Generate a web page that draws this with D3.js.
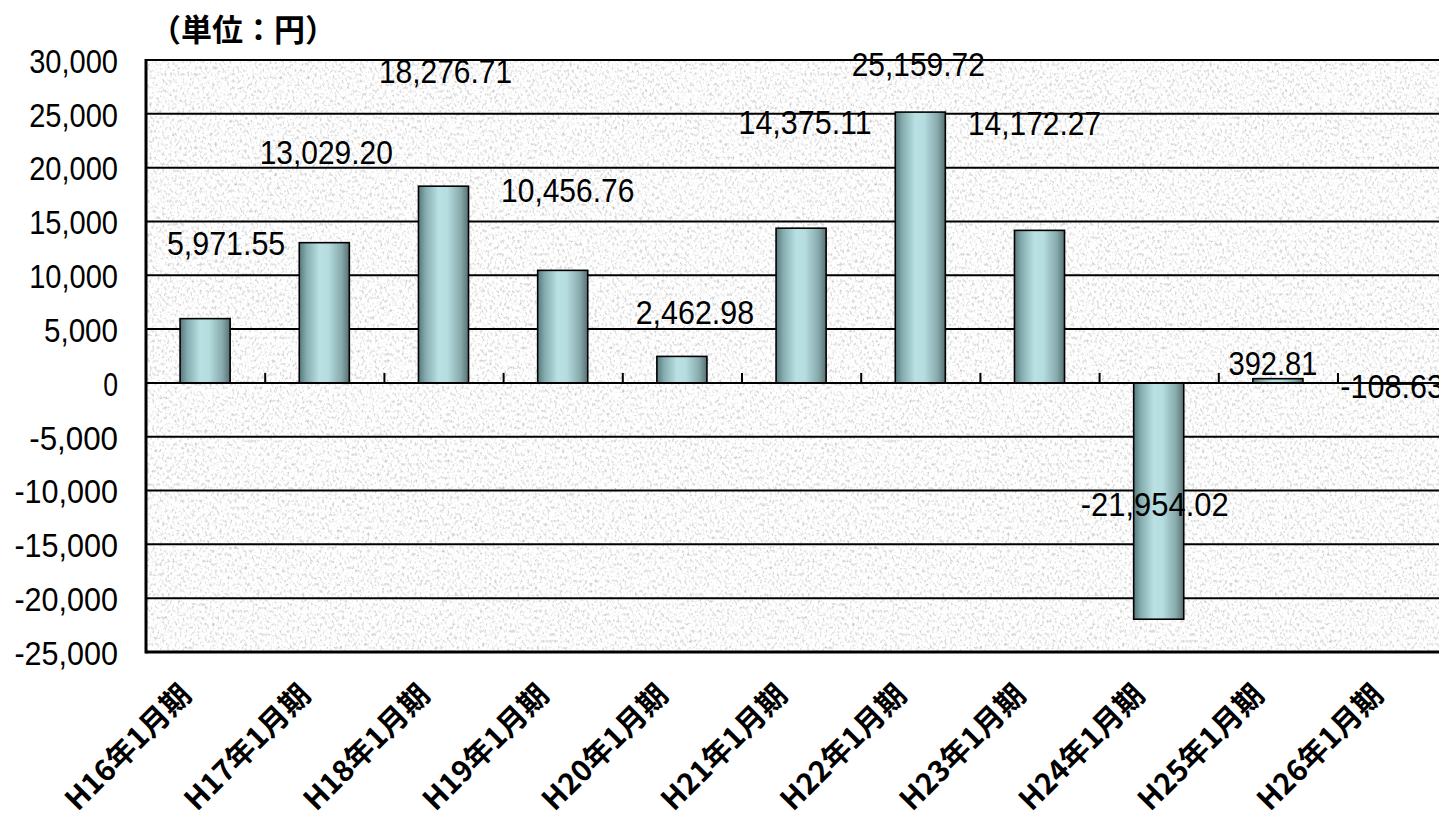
<!DOCTYPE html>
<html>
<head>
<meta charset="utf-8">
<script src="https://cdn.jsdelivr.net/npm/d3@7"></script>
<style>
  html, body { margin: 0; padding: 0; background: #ffffff; overflow: hidden; }
  svg { display: block; }
  .num { font-family: "Liberation Sans", Arial, sans-serif; font-size: 32.5px; fill: #000; }
  .jp { font-family: "Noto Sans CJK JP", sans-serif; font-weight: 700; fill: #000; }
</style>
</head>
<body>
<svg id="chart" width="1439" height="822"></svg>
<script>
// 期別の一株当たり数値（円）
const periods = ["H16年1月期", "H17年1月期", "H18年1月期", "H19年1月期", "H20年1月期",
                 "H21年1月期", "H22年1月期", "H23年1月期", "H24年1月期", "H25年1月期", "H26年1月期"];
const values = [5971.55, 13029.20, 18276.71, 10456.76, 2462.98,
                14375.11, 25159.72, 14172.27, -21954.02, 392.81, -108.63];
const yTicks = [30000, 25000, 20000, 15000, 10000, 5000, 0, -5000, -10000, -15000, -20000, -25000];
const unitLabel = "（単位：円）";

// データラベルの手動配置（バー端からのずれ, px）
const labelNudge = [[21, -76], [2, -91], [2, -116], [5, -81], [13, -45], [4, -107],
                    [-2, -48], [-5, -108], [-4, -116], [-5, -16], [-5, 2]];

// 半角文字1文字分の幅（等幅風に揃える）
const CHAR_W = 14.8;

const svg = d3.select("#chart");
const plot = { left: 146, top: 60, bottom: 652, band: 119.2 };
plot.right = plot.left + plot.band * periods.length;

const x = d3.scaleBand().domain(periods).range([plot.left - 0.5, plot.right - 0.5]).paddingInner(0.58).paddingOuter(0.29);
const y = d3.scaleLinear().domain([-25000, 30000]).range([plot.bottom, plot.top]);

const locale = d3.formatLocale({ decimal: ".", thousands: ",", grouping: [3], currency: ["", ""], minus: "-" });
const fmtTick = locale.format(",");
const fmtLabel = locale.format(",.2f");

const defs = svg.append("defs");

// 紙のような灰色テクスチャ
const paper = defs.append("filter").attr("id", "paper")
  .attr("x", 0).attr("y", 0).attr("width", 1).attr("height", 1)
  .attr("color-interpolation-filters", "sRGB");
paper.append("feTurbulence").attr("type", "fractalNoise")
  .attr("baseFrequency", "0.4 0.3").attr("numOctaves", 4).attr("seed", 7).attr("result", "grain");
paper.append("feColorMatrix").attr("in", "grain").attr("type", "matrix")
  .attr("values", "0.55 0 0 0 0.72  0.55 0 0 0 0.72  0.55 0 0 0 0.72  0 0 0 0 1");

// バーの円柱風グラデーション
const grad = defs.append("linearGradient").attr("id", "barFill").attr("x1", 0).attr("x2", 1).attr("y1", 0).attr("y2", 0);
[["0%", "#56787b"], ["14%", "#84abae"], ["40%", "#b9e0e3"], ["58%", "#b5dcdf"], ["84%", "#88abad"], ["100%", "#587072"]]
  .forEach(([o, c]) => grad.append("stop").attr("offset", o).attr("stop-color", c));

// プロット領域
svg.append("rect")
  .attr("x", plot.left).attr("y", plot.top)
  .attr("width", plot.right - plot.left).attr("height", plot.bottom - plot.top)
  .attr("fill", "#ececec").attr("filter", "url(#paper)");

// 目盛線
svg.append("g").selectAll("line").data(yTicks).join("line")
  .attr("x1", plot.left).attr("x2", plot.right)
  .attr("y1", d => y(d)).attr("y2", d => y(d))
  .attr("stroke", "#000").attr("stroke-width", 2);

// 縦軸ラベル
const yAxis = d3.axisLeft(y).tickValues(yTicks).tickSize(0).tickPadding(0).tickFormat(fmtTick);
const yg = svg.append("g").attr("transform", `translate(118,0)`).call(yAxis);
yg.select(".domain").remove();
yg.selectAll("text")
  .attr("class", "num").attr("font-size", null).attr("font-family", null)
  .attr("dy", "0.38em").attr("x", 0)
  .attr("lengthAdjust", "spacingAndGlyphs")
  .attr("textLength", function () { return this.textContent.length * CHAR_W; });

// バー
svg.append("g").selectAll("rect").data(values).join("rect")
  .attr("x", (d, i) => x(periods[i]))
  .attr("width", x.bandwidth())
  .attr("y", d => y(Math.max(0, d)))
  .attr("height", d => Math.abs(y(d) - y(0)))
  .attr("fill", "url(#barFill)")
  .attr("stroke", "#000").attr("stroke-width", 1.6);

// ゼロ線と区切り目盛
svg.append("line").attr("x1", plot.left).attr("x2", plot.right)
  .attr("y1", y(0)).attr("y2", y(0)).attr("stroke", "#000").attr("stroke-width", 2);
svg.append("g").selectAll("line").data(d3.range(1, periods.length)).join("line")
  .attr("x1", i => plot.left + i * plot.band).attr("x2", i => plot.left + i * plot.band)
  .attr("y1", y(0)).attr("y2", y(0) - 10)
  .attr("stroke", "#000").attr("stroke-width", 2);

// 軸の枠線
svg.append("line").attr("x1", plot.left).attr("x2", plot.left)
  .attr("y1", plot.top - 1).attr("y2", plot.bottom + 1.5).attr("stroke", "#000").attr("stroke-width", 3);
svg.append("line").attr("x1", plot.left).attr("x2", plot.right)
  .attr("y1", plot.bottom).attr("y2", plot.bottom).attr("stroke", "#000").attr("stroke-width", 3);

// データラベル
svg.append("g").selectAll("text").data(values).join("text")
  .attr("class", "num")
  .attr("text-anchor", "middle")
  .attr("x", (d, i) => x(periods[i]) + x.bandwidth() / 2 + labelNudge[i][0])
  .attr("y", (d, i) => y(d) + labelNudge[i][1])
  .attr("dy", "0.38em")
  .text(d => fmtLabel(d))
  .attr("lengthAdjust", "spacingAndGlyphs")
  .attr("textLength", d => fmtLabel(d).length * CHAR_W);

// 横軸ラベル（45度回転）
svg.append("g").selectAll("text").data(periods).join("text")
  .attr("class", "jp")
  .attr("font-size", 29.5)
  .attr("text-anchor", "end")
  .attr("transform", d => `translate(${x(d) + x.bandwidth() / 2 - 12},${plot.bottom + 45}) rotate(-45)`)
  .text(d => d);

// 単位
svg.append("text").attr("class", "jp").attr("font-size", 31)
  .attr("x", 150).attr("y", 41).text(unitLabel);
</script>
</body>
</html>
